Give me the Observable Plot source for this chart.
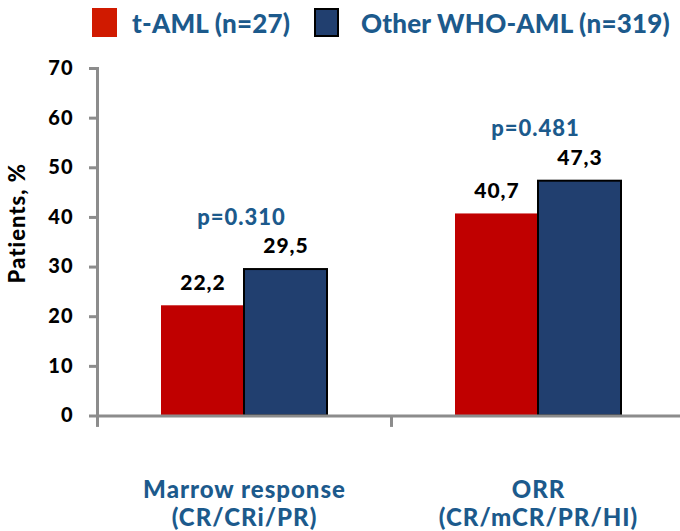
<!DOCTYPE html>
<html><head><meta charset="utf-8">
<script src="https://cdn.jsdelivr.net/npm/d3@7"></script>
<script src="https://cdn.jsdelivr.net/npm/@observablehq/plot@0.6"></script>
<style>
html,body{margin:0;padding:0;background:#fff}
body{width:680px;height:531px;overflow:hidden;position:relative;font-family:Lato,sans-serif}
#chart{position:absolute;left:0;top:0}
#chart svg{letter-spacing:1px}
.sw{position:absolute;top:8px;width:25px;height:29px;box-sizing:border-box}
.lt{position:absolute;top:5px;font-size:26px;font-weight:900;color:#1c5a8c;white-space:nowrap;line-height:36px;letter-spacing:0.2px}
</style></head><body>
<div id="chart"></div>
<div id="legend"></div>
<script>
const categories = ["Marrow response\n(CR/CRi/PR)", "ORR\n(CR/mCR/PR/HI)"];
const seriesNames = ["t-AML (n=27)", "Other WHO-AML (n=319)"];
const tAML = [22.2, 40.7];
const otherAML = [29.5, 47.3];
const pValues = ["p=0.310", "p=0.481"];
const yTicks = [0, 10, 20, 30, 40, 50, 60, 70];
const yLabel = "Patients, %";

const colors = ["#C00000", "#213F6F"];
const legendColors = ["#D01A00", "#213F6F"];
const axisGray = "#8c8c8c";
const textBlue = "#1c5a8c";

const rows = categories.map((c, i) => ({category: c, tAML: tAML[i], other: otherAML[i], p: pValues[i]}));
const fmt = v => String(v).replace(".", ",");

const chart = Plot.plot({
  width: 680, height: 531,
  marginTop: 68, marginBottom: 115.5, marginLeft: 97, marginRight: -5,
  x: {domain: categories, range: [97, 685], padding: 0},
  y: {domain: [0, 70], range: [415.5, 68]},
  style: {fontFamily: "Lato, sans-serif", overflow: "visible", background: "white"},
  marks: [
    Plot.barY(rows, {x: "category", y: "tAML", fill: colors[0], insetLeft: 64, insetRight: 147}),
    Plot.barY(rows, {x: "category", y: "other", fill: colors[1], stroke: "black", strokeWidth: 2, insetLeft: 147, insetRight: 64}),
    Plot.frame({anchor: "left", stroke: axisGray, strokeWidth: 3}),
    Plot.frame({anchor: "bottom", stroke: axisGray, strokeWidth: 3}),
    Plot.ruleX(categories, {x: d => d, dx: -147, y1: 0, y2: -2.3, stroke: axisGray, strokeWidth: 3}),
    Plot.axisY({ticks: yTicks, tickSize: 8, tickPadding: 16, stroke: axisGray, strokeWidth: 3, fill: "black", fontSize: 20, fontWeight: 900, label: null}),
    Plot.axisX({tickSize: 0, tickPadding: 62, fontSize: 24, fontWeight: 900, fill: textBlue, lineHeight: 1.17, label: null}),
    Plot.text(rows, {x: "category", y: "tAML", text: d => fmt(d.tAML), dx: -41.5, dy: -23, fontSize: 21, fontWeight: 900, fill: "black"}),
    Plot.text(rows, {x: "category", y: "other", text: d => fmt(d.other), dx: 41.5, dy: -23, fontSize: 21, fontWeight: 900, fill: "black"}),
    Plot.text(rows, {x: "category", y: d => Math.max(d.tAML, d.other), text: "p", dx: -3, dy: -52, fontSize: 22, fontWeight: 900, fill: textBlue}),
    Plot.text([yLabel], {frameAnchor: "left", rotate: -90, dx: -80, dy: -19, textAnchor: "middle", fontSize: 22, fontWeight: 900, fill: "black"})
  ]
});
document.getElementById("chart").append(chart);

const legend = document.getElementById("legend");
const swLeft = [92, 314], txtLeft = [132, 361];
seriesNames.forEach((name, i) => {
  const sw = document.createElement("div");
  sw.className = "sw";
  sw.style.left = swLeft[i] + "px";
  sw.style.background = legendColors[i];
  if (i === 1) sw.style.border = "2px solid black";
  legend.append(sw);
  const t = document.createElement("div");
  t.className = "lt";
  t.style.left = txtLeft[i] + "px";
  t.textContent = name;
  legend.append(t);
});
</script>
</body></html>
